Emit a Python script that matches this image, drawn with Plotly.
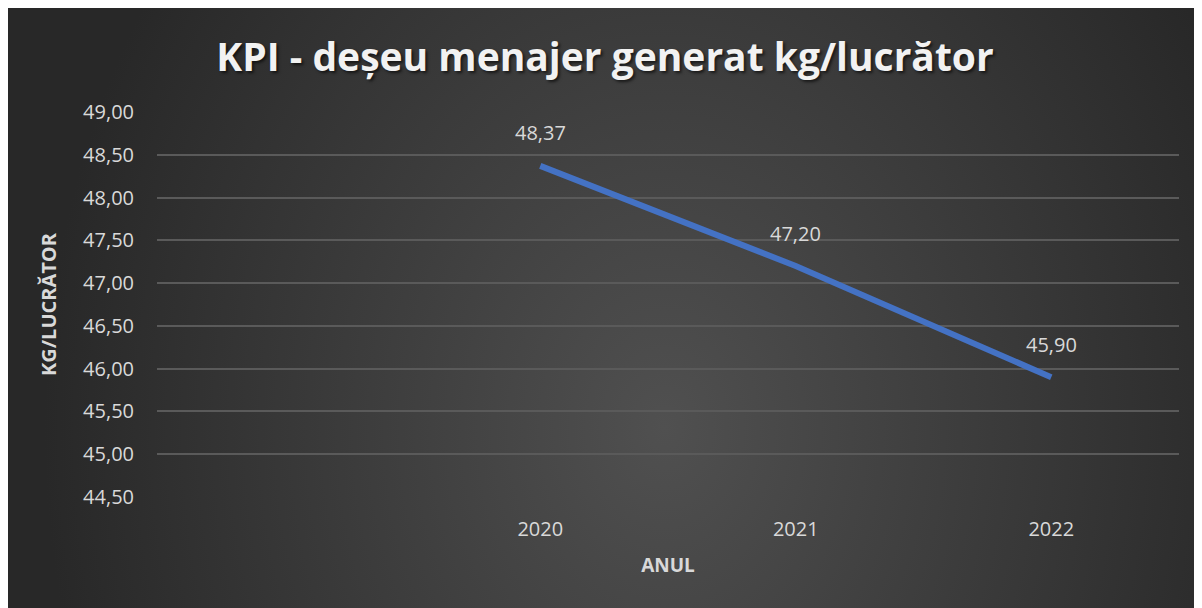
import base64
import plotly.graph_objects as go

# ---- data ----
years = [2020, 2021, 2022]
values = [48.37, 47.20, 45.90]
title_text = "KPI - deșeu menajer generat kg/lucrător"
x_title = "ANUL"
y_title = "KG/LUCRĂTOR"

# page body has an 8px margin, figure starts at (8,8)
W, H = 1194, 600
ML, MR, MT, MB = 149, 23, 104, 111
pw, ph = W - ML - MR, H - MT - MB

# radial gradient background (dark chart style)
svg = '''<svg xmlns="http://www.w3.org/2000/svg" width="1194" height="600" viewBox="0 0 1 1" preserveAspectRatio="none">
<defs><radialGradient id="g" gradientUnits="objectBoundingBox" cx="0" cy="0" r="1"
 gradientTransform="translate(0.55,0.7) scale(0.52,1.3)">
<stop offset="0" stop-color="#505050"/><stop offset="1" stop-color="#282828"/>
</radialGradient></defs>
<rect x="0" y="0" width="1" height="1" fill="url(#g)"/></svg>'''
src = "data:image/svg+xml;base64," + base64.b64encode(svg.encode()).decode()

img = dict(source=src, xref="paper", yref="paper",
           x=-ML / pw, y=(H - MB) / ph,
           sizex=W / pw, sizey=H / ph,
           sizing="stretch", xanchor="left", yanchor="top", layer="below")

fig = go.Figure()
fig.add_trace(go.Scatter(x=years, y=values, mode="lines",
                         line=dict(color="#4472C4", width=6),
                         hoverinfo="skip", showlegend=False))

annotations = []
for yr, v in zip(years, values):
    annotations.append(dict(x=yr, y=v, xref="x", yref="y",
                            text=f"{v:.2f}".replace(".", ","), showarrow=False,
                            yshift=33, font=dict(family="Open Sans", size=20, color="#d9d9d9")))

fig.update_layout(
    width=W, height=H,
    margin=dict(l=ML, r=MR, t=MT, b=MB),
    paper_bgcolor="#2a2a2a", plot_bgcolor="rgba(0,0,0,0)",
    images=[img],
    separators=",.",
    annotations=annotations,
    title=dict(text=title_text, x=597 / W, xanchor="center", y=1 - 49 / H, yanchor="middle",
               font=dict(family="Open Sans", size=39, weight="bold", color="#f2f2f2",
                         shadow="2px 2px 3px rgba(0,0,0,0.6)")),
    xaxis=dict(range=[2018.5, 2022.5], tickvals=years, ticktext=[str(y) for y in years],
               showgrid=False, zeroline=False, showline=False, ticks="",
               ticklabelstandoff=18,
               tickfont=dict(family="Open Sans", size=20, color="#d9d9d9"),
               title=dict(text=x_title, standoff=17,
                          font=dict(family="Open Sans", size=19, weight="bold", color="#d9d9d9"))),
    yaxis=dict(range=[44.5, 49], dtick=0.5, tickformat=".2f",
               showgrid=True, gridcolor="#5a5a5a", gridwidth=1.5, zeroline=False, showline=False,
               ticks="", ticklabelstandoff=22,
               tickfont=dict(family="Open Sans", size=20, color="#d9d9d9"),
               title=dict(text=y_title, standoff=21,
                          font=dict(family="Open Sans", size=20, weight="bold", color="#d9d9d9"))),
)

fig.write_html("out.html")
